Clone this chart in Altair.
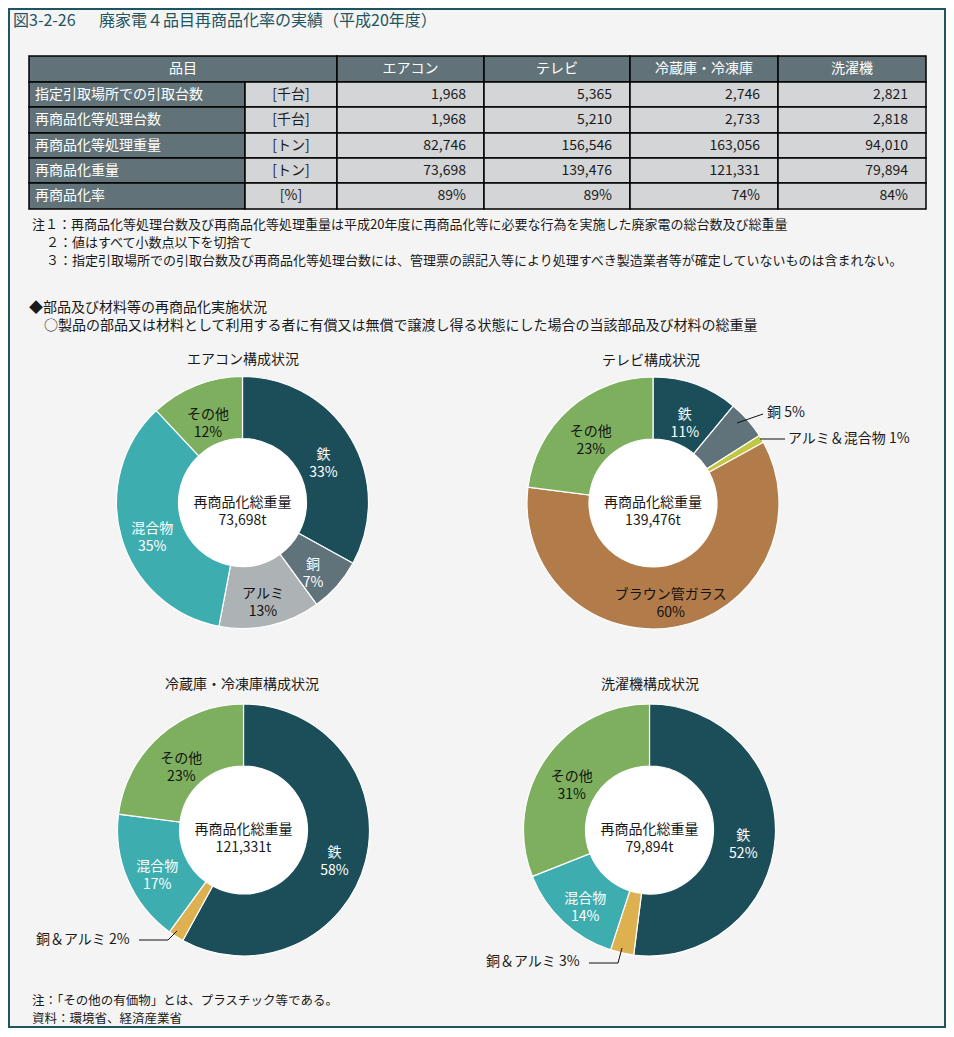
import math
import altair as alt
import pandas as pd

FONT = "Noto Sans CJK JP"
W, H = 938, 1020
OFF = 8  # page margin: layout constants below are in page pixels

# ---------------- data ----------------
fig_no = "図3-2-26"
fig_title = "廃家電４品目再商品化率の実績（平成20年度）"

header_item = "品目"
products = ["エアコン", "テレビ", "冷蔵庫・冷凍庫", "洗濯機"]
row_labels = ["指定引取場所での引取台数", "再商品化等処理台数", "再商品化等処理重量", "再商品化重量", "再商品化率"]
row_units = ["[千台]", "[千台]", "[トン]", "[トン]", "[%]"]
aircon_vals = ["1,968", "1,968", "82,746", "73,698", "89%"]
tv_vals = ["5,365", "5,210", "156,546", "139,476", "89%"]
fridge_vals = ["2,746", "2,733", "163,056", "121,331", "74%"]
washer_vals = ["2,821", "2,818", "94,010", "79,894", "84%"]

notes_top = [
    "注１：再商品化等処理台数及び再商品化等処理重量は平成20年度に再商品化等に必要な行為を実施した廃家電の総台数及び総重量",
    "２：値はすべて小数点以下を切捨て",
    "３：指定引取場所での引取台数及び再商品化等処理台数には、管理票の誤記入等により処理すべき製造業者等が確定していないものは含まれない。",
]
section_title = "◆部品及び材料等の再商品化実施状況"
section_sub = "○製品の部品又は材料として利用する者に有償又は無償で譲渡し得る状態にした場合の当該部品及び材料の総重量"
notes_bottom = ["注：「その他の有価物」とは、プラスチック等である。", "資料：環境省、経済産業省"]

center_caption = "再商品化総重量"
pie_titles = ["エアコン構成状況", "テレビ構成状況", "冷蔵庫・冷凍庫構成状況", "洗濯機構成状況"]

aircon_parts = ["鉄", "銅", "アルミ", "混合物", "その他"]
aircon_pct = [33, 7, 13, 35, 12]
tv_parts = ["鉄", "銅", "アルミ＆混合物", "ブラウン管ガラス", "その他"]
tv_pct = [11, 5, 1, 60, 23]
fridge_parts = ["鉄", "銅＆アルミ", "混合物", "その他"]
fridge_pct = [58, 2, 17, 23]
washer_parts = ["鉄", "銅＆アルミ", "混合物", "その他"]
washer_pct = [52, 3, 14, 31]

# ---------------- styles / layout ----------------
materials = ["鉄", "銅", "アルミ", "混合物", "その他", "アルミ＆混合物", "ブラウン管ガラス", "銅＆アルミ"]
fill_colors = ["#1c4e59", "#60737a", "#adb2b5", "#3eadb0", "#7daf5f", "#c3c640", "#b27b4a", "#ddb14f"]
label_colors = ["#ffffff", "#ffffff", "#111111", "#ffffff", "#111111", "#111111", "#111111", "#111111"]
FILL_SCALE = alt.Scale(domain=materials, range=fill_colors)
TEXT_SCALE = alt.Scale(domain=materials, range=label_colors)

TEAL = "#1d5561"
DARK = "#617379"
LIGHT = "#d4d5d7"
INK = "#1a1a1a"

XS = alt.Scale(domain=[OFF, OFF + W], range=[0, W], nice=False, zero=False)
YS = alt.Scale(domain=[OFF, OFF + H], range=[0, H], nice=False, zero=False)

col_edges = [29, 245, 337, 484, 630, 778, 926]
row_edges = [56, 82, 107, 133, 158, 183, 209]

R_OUT, R_IN, R_LBL = 126, 64, 94


def px(v):
    return v - OFF


def text_at(s, x, y, size=14, color=INK, align="left"):
    return alt.Chart(pd.DataFrame({"t": [s]})).mark_text(
        font=FONT, fontSize=size, color=color, align=align, baseline="middle"
    ).encode(x=alt.value(px(x)), y=alt.value(px(y)), text="t:N")


layers = []

# frame
layers.append(
    alt.Chart(pd.DataFrame({"a": [0]})).mark_rect(
        fillOpacity=0, stroke=TEAL, strokeWidth=2
    ).encode(x=alt.value(1), x2=alt.value(W - 1), y=alt.value(1), y2=alt.value(H - 1))
)

# title
layers.append(text_at(fig_no, 13, 21, size=16, color=TEAL))
layers.append(text_at(fig_title, 99, 21, size=16, color=TEAL))

# ---------------- table ----------------
dark_cells, light_cells = [], []
dark_cells.append(dict(x1=col_edges[0], x2=col_edges[2], y1=row_edges[0], y2=row_edges[1]))
for j in range(4):
    dark_cells.append(dict(x1=col_edges[j + 2], x2=col_edges[j + 3], y1=row_edges[0], y2=row_edges[1]))
for i in range(5):
    dark_cells.append(dict(x1=col_edges[0], x2=col_edges[1], y1=row_edges[i + 1], y2=row_edges[i + 2]))
    for j in range(5):
        light_cells.append(dict(x1=col_edges[j + 1], x2=col_edges[j + 2], y1=row_edges[i + 1], y2=row_edges[i + 2]))

for cells, color in [(dark_cells, DARK), (light_cells, LIGHT)]:
    layers.append(
        alt.Chart(pd.DataFrame(cells)).mark_rect(fill=color, stroke="#000000", strokeWidth=1.5).encode(
            x=alt.X("x1:Q", scale=XS, axis=None), x2="x2:Q",
            y=alt.Y("y1:Q", scale=YS, axis=None), y2="y2:Q",
        )
    )

rc = [(row_edges[i] + row_edges[i + 1]) / 2 for i in range(6)]
head_rows = [dict(t=header_item, x=(col_edges[0] + col_edges[2]) / 2, y=rc[0])]
for j, p in enumerate(products):
    head_rows.append(dict(t=p, x=(col_edges[j + 2] + col_edges[j + 3]) / 2, y=rc[0]))
label_rows = [dict(t=row_labels[i], x=col_edges[0] + 6, y=rc[i + 1]) for i in range(5)]
unit_rows = [dict(t=row_units[i], x=(col_edges[1] + col_edges[2]) / 2, y=rc[i + 1]) for i in range(5)]
value_rows = []
for j, vals in enumerate([aircon_vals, tv_vals, fridge_vals, washer_vals]):
    for i, v in enumerate(vals):
        value_rows.append(dict(t=v, x=col_edges[j + 3] - 18, y=rc[i + 1]))

for rows, color, align in [
    (head_rows, "#ffffff", "center"),
    (label_rows, "#ffffff", "left"),
    (unit_rows, INK, "center"),
    (value_rows, INK, "right"),
]:
    layers.append(
        alt.Chart(pd.DataFrame(rows)).mark_text(
            font=FONT, fontSize=14, color=color, align=align, baseline="middle"
        ).encode(
            x=alt.X("x:Q", scale=XS, axis=None),
            y=alt.Y("y:Q", scale=YS, axis=None),
            text="t:N",
        )
    )

# notes
layers.append(text_at(notes_top[0], 32, 225, size=13))
layers.append(text_at(notes_top[1], 46, 243, size=13))
layers.append(text_at(notes_top[2], 46, 261, size=13))
layers.append(text_at(section_title, 29, 308, size=14))
layers.append(text_at(section_sub, 44, 326, size=14))
layers.append(text_at(notes_bottom[0], 32, 1001, size=12.5))
layers.append(text_at(notes_bottom[1], 32, 1019, size=12.5))


# ---------------- donuts ----------------
def donut(cx, cy, parts, pct, total, title, tx, ty, outside):
    df = pd.DataFrame({
        "m": parts,
        "v": pct,
        "i": list(range(len(parts))),
        "lbl": ["" if p in outside else f"{p}\n{v}%" for p, v in zip(parts, pct)],
    })
    base = alt.Chart(df)
    pos = dict(x=alt.value(px(cx)), y=alt.value(px(cy)))
    arc = base.mark_arc(outerRadius=R_OUT, innerRadius=R_IN, stroke="#ffffff", strokeWidth=1.2).encode(
        theta=alt.Theta("v:Q", stack=True),
        order=alt.Order("i:Q", sort="ascending"),
        fill=alt.Fill("m:N", scale=FILL_SCALE, legend=None),
        **pos,
    )
    hole = alt.Chart(pd.DataFrame({"a": [0]})).mark_arc(
        outerRadius=R_IN - 0.5, innerRadius=0, theta=0, theta2=2 * math.pi, fill="#ffffff"
    ).encode(**pos)
    lbl = base.mark_text(
        radius=R_LBL, font=FONT, fontSize=14, lineBreak="\n", lineHeight=18, baseline="middle", align="center"
    ).encode(
        theta=alt.Theta("v:Q", stack=True),
        order=alt.Order("i:Q", sort="ascending"),
        text="lbl:N",
        color=alt.Color("m:N", scale=TEXT_SCALE, legend=None),
        **pos,
    )
    center = alt.Chart(pd.DataFrame({"t": [f"{center_caption}\n{total}t"]})).mark_text(
        font=FONT, fontSize=14, lineBreak="\n", lineHeight=18, color=INK, baseline="middle", align="center"
    ).encode(text="t:N", **pos)
    ttl = text_at(title, tx, ty, size=14, align="center")
    return [arc, hole, lbl, center, ttl]


layers += donut(242.5, 502.5, aircon_parts, aircon_pct, aircon_vals[3], pie_titles[0], 243, 360, [])
layers += donut(653, 503, tv_parts, tv_pct, tv_vals[3], pie_titles[1], 651, 361, [tv_parts[1], tv_parts[2]])
layers += donut(243.5, 830, fridge_parts, fridge_pct, fridge_vals[3], pie_titles[2], 242, 685, [fridge_parts[1]])
layers += donut(649.5, 830, washer_parts, washer_pct, washer_vals[3], pie_titles[3], 650, 685, [washer_parts[1]])

# outside labels and leader lines
out_labels = pd.DataFrame([
    dict(t=f"{tv_parts[1]} {tv_pct[1]}%", x=767, y=413),
    dict(t=f"{tv_parts[2]} {tv_pct[2]}%", x=788, y=439),
    dict(t=f"{fridge_parts[1]} {fridge_pct[1]}%", x=36, y=940),
    dict(t=f"{washer_parts[1]} {washer_pct[1]}%", x=486, y=962),
])
layers.append(
    alt.Chart(out_labels).mark_text(font=FONT, fontSize=14, color=INK, align="left", baseline="middle").encode(
        x=alt.X("x:Q", scale=XS, axis=None), y=alt.Y("y:Q", scale=YS, axis=None), text="t:N"
    )
)
leaders = pd.DataFrame([
    dict(x1=737, y1=423, x2=763, y2=414),
    dict(x1=760, y1=439, x2=785, y2=439),
    dict(x1=139, y1=940, x2=168, y2=940),
    dict(x1=168, y1=940, x2=177, y2=931),
    dict(x1=589, y1=963, x2=618, y2=963),
    dict(x1=618, y1=963, x2=622, y2=948),
])
layers.append(
    alt.Chart(leaders).mark_rule(color="#111111", strokeWidth=1).encode(
        x=alt.X("x1:Q", scale=XS, axis=None), x2="x2:Q",
        y=alt.Y("y1:Q", scale=YS, axis=None), y2="y2:Q",
    )
)

chart = alt.layer(*layers).properties(
    width=W, height=H, padding=0, background="#f4f4f4"
).configure_view(stroke=None)

chart.save("out.html", embed_options={"renderer": "svg", "actions": False})
